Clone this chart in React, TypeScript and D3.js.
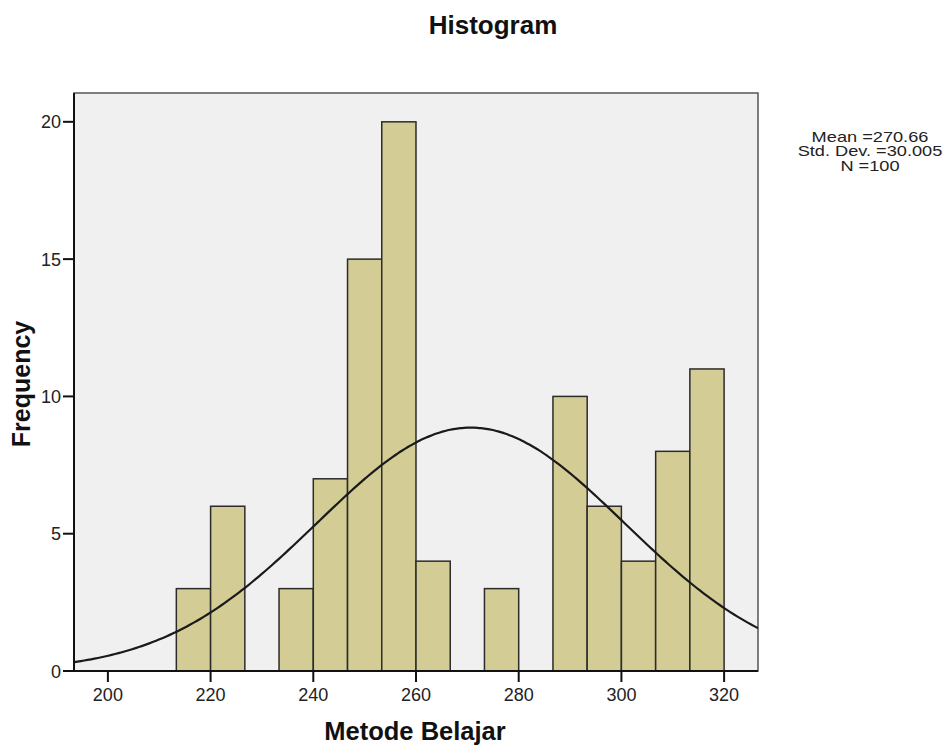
import React from "react";
import * as d3 from "d3";

const binLower = [213.33, 220, 226.67, 233.33, 240, 246.67, 253.33, 260, 266.67, 273.33, 280, 286.67, 293.33, 300, 306.67, 313.33];
const counts = [3, 6, 0, 3, 7, 15, 20, 4, 0, 3, 0, 10, 6, 4, 8, 11];
const binWidth = 6.667;
const xTicks = [200, 220, 240, 260, 280, 300, 320];
const yTicks = [0, 5, 10, 15, 20];
const stats = { mean: 270.66, sd: 30.005, n: 100 };
const legendLines = ["Mean =270.66", "Std. Dev. =30.005", "N =100"];

const W = 952, H = 746;
const L = 74, R = 758, T = 93, B = 671;

export default function App() {
  const x = d3.scaleLinear().domain([193.4, 326.6]).range([L, R]);
  const y = d3.scaleLinear().domain([0, 21.05]).range([B, T]);
  const bars = binLower.map((lo, i) => ({ lo, hi: lo + binWidth, c: counts[i] })).filter(d => d.c > 0);
  const [x0, x1] = x.domain();
  const pts: [number, number][] = d3.range(0, 201).map(i => {
    const v = x0 + (x1 - x0) * i / 200;
    const z = (v - stats.mean) / stats.sd;
    const f = stats.n * binWidth * Math.exp(-0.5 * z * z) / (stats.sd * Math.sqrt(2 * Math.PI));
    return [v, f];
  });
  const line = d3.line<[number, number]>().x(d => x(d[0])).y(d => y(d[1])).curve(d3.curveBasis);
  const tickFont = "'Liberation Sans', Arial, sans-serif";
  return (
    <svg width={W} height={H} style={{ position: "absolute", left: 0, top: 0, background: "#fff" }}>
      <text x={493} y={34} textAnchor="middle" fontFamily={tickFont} fontWeight="bold" fontSize={26} fill="#111">Histogram</text>
      <rect x={L} y={T} width={R - L} height={B - T} fill="#f0f0f0" stroke="#555" strokeWidth={1.5} />
      <defs>
        <clipPath id="plotclip"><rect x={L} y={T} width={R - L} height={B - T} /></clipPath>
      </defs>
      {bars.map((d, i) => (
        <rect key={i} x={x(d.lo)} y={y(d.c)} width={x(d.hi) - x(d.lo)} height={B - y(d.c)} fill="#d3cd95" stroke="#2b2b2b" strokeWidth={1.5} />
      ))}
      <path d={line(pts) || ""} fill="none" stroke="#1a1a1a" strokeWidth={2.2} clipPath="url(#plotclip)" />
      <line x1={L} y1={T} x2={L} y2={B} stroke="#111" strokeWidth={2} />
      <line x1={L} y1={B} x2={R} y2={B} stroke="#111" strokeWidth={2} />
      {yTicks.map(t => (
        <g key={t}>
          <line x1={L - 11} x2={L} y1={y(t)} y2={y(t)} stroke="#111" strokeWidth={2} />
          <text x={L - 13} y={y(t) + 6.5} textAnchor="end" fontFamily={tickFont} fontSize={18} fill="#222">{t}</text>
        </g>
      ))}
      {xTicks.map(t => (
        <g key={t}>
          <line x1={x(t)} x2={x(t)} y1={B} y2={B + 11} stroke="#111" strokeWidth={2} />
          <text x={x(t)} y={701} textAnchor="middle" fontFamily={tickFont} fontSize={18} fill="#222">{t}</text>
        </g>
      ))}
      <text x={415} y={740} textAnchor="middle" fontFamily={tickFont} fontWeight="bold" fontSize={25.5} fill="#111">Metode Belajar</text>
      <text transform="translate(30,384) rotate(-90)" textAnchor="middle" fontFamily={tickFont} fontWeight="bold" fontSize={25} fill="#111">Frequency</text>
      <g transform="translate(870,0) scale(1.3,1)">
        {legendLines.map((s, i) => (
          <text key={i} x={0} y={142 + i * 14.5} textAnchor="middle" fontFamily={tickFont} fontSize={14} fill="#222">{s}</text>
        ))}
      </g>
    </svg>
  );
}
